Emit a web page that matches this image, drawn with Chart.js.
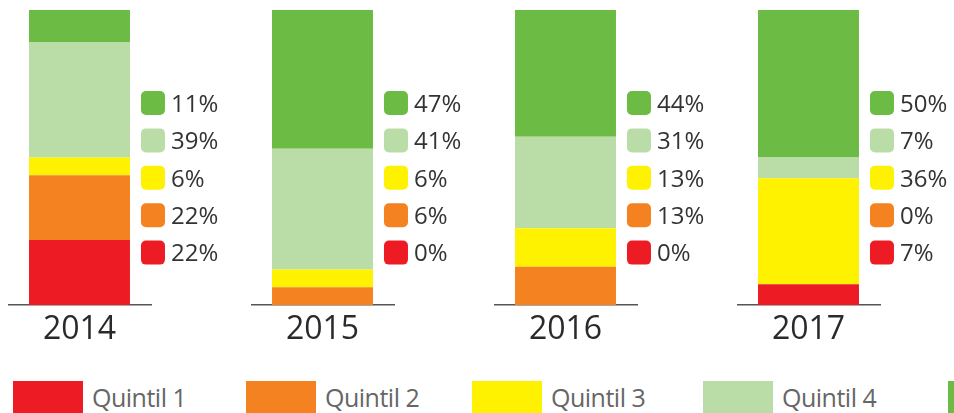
<!DOCTYPE html>
<html>
<head>
<meta charset="utf-8">
<script src="https://cdn.jsdelivr.net/npm/chart.js@4"></script>
<style>
    html, body { margin: 0; padding: 0; background: #fff; }
    body { width: 954px; height: 413px; position: relative; overflow: hidden; }
    .panel { position: absolute; top: 0; }
    #leyenda { position: absolute; left: 13px; top: 381px; display: flex; }
    .item { width: 233px; display: flex; align-items: flex-start; }
    .item:nth-child(2) { width: 226px; }
    .item:nth-child(3) { width: 231px; }
    .item:nth-child(4) { width: 245px; }
    .caja { width: 70px; height: 34px; flex: none; }
    .item span { font-family: "Open Sans", sans-serif; font-size: 25px; color: #666; margin-left: 9px; line-height: 32px; letter-spacing: -0.5px; }
</style>
</head>
<body>
<div id="leyenda"></div>
<script>
// datos (porcentaje por quintil y anio)
const anios = ["2014", "2015", "2016", "2017"];
const quintiles = ["Quintil 1", "Quintil 2", "Quintil 3", "Quintil 4", "Quintil 5"];
const quintil1 = [22, 0, 0, 7];
const quintil2 = [22, 6, 13, 0];
const quintil3 = [6, 6, 13, 36];
const quintil4 = [39, 41, 31, 7];
const quintil5 = [11, 47, 44, 50];

const series = [quintil1, quintil2, quintil3, quintil4, quintil5];
const colores = ["#ED1C24", "#F58220", "#FFF200", "#BADDA8", "#6CBB45"];

// cuadritos con el porcentaje a la derecha de cada barra
const etiquetasPlugin = {
    id: "etiquetas",
    afterDatasetsDraw(chart) {
        const ctx = chart.ctx;
        const bar = chart.getDatasetMeta(0).data[0];
        const xCuadro = bar.x + bar.width / 2 + 11;
        const n = chart.data.datasets.length;

        ctx.save();
        for (let fila = 0; fila < n; fila++) {
            const ds = chart.data.datasets[n - 1 - fila];
            const y = 91 + fila * 37.4;
            ctx.fillStyle = ds.backgroundColor;
            ctx.beginPath();
            ctx.roundRect(xCuadro, y, 24, 24, 5);
            ctx.fill();

            ctx.fillStyle = "#333";
            ctx.font = "24px 'Open Sans', sans-serif";
            ctx.textBaseline = "middle";
            ctx.textAlign = "left";
            ctx.fillText(ds.data[0] + "%", xCuadro + 30, y + 14);
        }
        ctx.restore();
    }
};

function crearPanel(i) {
    const canvas = document.createElement("canvas");
    canvas.className = "panel";
    canvas.width = 243;
    canvas.height = 345;
    canvas.style.left = (8 + i * 243) + "px";
    document.body.appendChild(canvas);

    new Chart(canvas, {
        type: "bar",
        data: {
            labels: [anios[i]],
            datasets: series.map((serie, k) => ({
                label: quintiles[k],
                data: [serie[i]],
                backgroundColor: colores[k],
                borderWidth: 0,
                barPercentage: 0.706,
                categoryPercentage: 1
            }))
        },
        options: {
            responsive: false,
            animation: false,
            layout: { padding: { top: 10, right: 100, left: 0, bottom: 0 } },
            plugins: {
                legend: { display: false },
                tooltip: { enabled: false }
            },
            scales: {
                x: {
                    stacked: true,
                    grid: { display: false, drawTicks: false },
                    border: { display: true, color: "#555", width: 1.5 },
                    ticks: {
                        color: "#2a2a2a",
                        padding: 6,
                        font: { family: "'Open Sans', sans-serif", size: 32 }
                    },
                    afterFit(scale) { scale.height = 40; }
                },
                y: {
                    stacked: true,
                    display: false,
                    min: 0,
                    max: 100
                }
            }
        },
        plugins: [etiquetasPlugin]
    });
}

anios.forEach((anio, i) => crearPanel(i));

const leyenda = document.getElementById("leyenda");
quintiles.forEach((nombre, k) => {
    const item = document.createElement("div");
    item.className = "item";
    const caja = document.createElement("div");
    caja.className = "caja";
    caja.style.background = colores[k];
    const texto = document.createElement("span");
    texto.textContent = nombre;
    item.appendChild(caja);
    item.appendChild(texto);
    leyenda.appendChild(item);
});
</script>
</body>
</html>
